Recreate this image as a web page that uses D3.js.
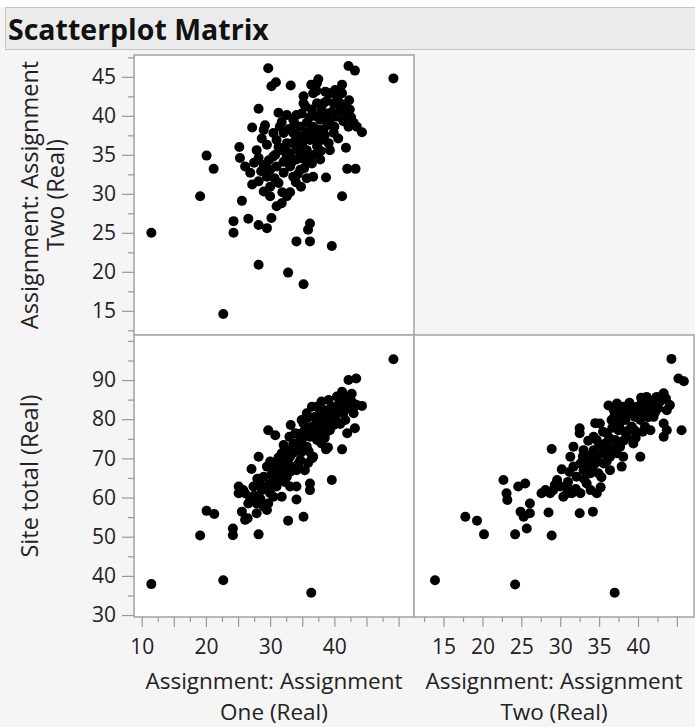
<!DOCTYPE html>
<html>
<head>
<meta charset="utf-8">
<script src="https://cdn.jsdelivr.net/npm/d3@7"></script>
<style>
  body { margin: 0; background: #fff; }
  text { font-family: "Open Sans", "Noto Sans", sans-serif; fill: #222; }
</style>
</head>
<body>
<div id="chart"></div>
<script>
const width = 695;
const height = 727;

// Assignment One (x) vs Assignment Two (y)
const oneVsTwo = [
  [29.7,46.1],[42.2,46.4],[43.2,45.8],[49.2,44.8],[30.9,44.3],[30.2,43.8],[33.2,43.9],[37.5,44.7],
  [37.3,44.2],[41.2,44.0],[35.2,42.5],[35.2,41.6],[28.2,40.9],[42.3,42.0],[31.3,40.4],[27.2,38.5],
  [29.2,38.8],[44.3,37.9],[20.1,34.9],[21.2,33.2],[25.2,36.0],[19.1,29.7],[25.6,29.1],[11.5,25.0],
  [24.3,26.5],[24.3,25.0],[26.6,26.8],[28.2,26.0],[29.5,25.6],[30.2,26.9],[28.2,20.9],[32.8,19.9],
  [35.2,18.4],[22.7,14.6],[34.1,23.9],[36.2,23.9],[36.2,26.2],[35.9,25.4],[39.6,23.3],[41.2,29.7],
  [42.0,33.2],[43.3,33.2],[41.8,35.9],[38.7,32.1],[34.8,30.9],[33.1,30.2],[31.8,28.8],[31.0,28.4],
  [30.0,29.7],[27.2,31.2],
  [25.3,34.6],[26.1,33.5],[26.9,32.7],[28.2,34.6],[29.0,33.7],[29.5,32.2],[30.0,30.9],[28.7,37.1],
  [29.5,36.3],[31.0,36.9],[32.1,37.8],[31.8,35.6],[32.6,34.8],[33.1,33.5],[33.6,32.2],[34.1,36.1],
  [34.1,34.4],[34.7,38.6],[35.2,37.4],[35.7,35.6],[36.5,33.9],[36.7,32.2],[37.3,39.9],[37.5,38.2],
  [38.0,36.9],[38.3,41.6],[38.8,40.3],[39.3,39.1],[39.3,35.6],[39.9,37.8],[40.4,42.5],[40.9,40.8],
  [41.4,39.3],[42.2,38.6],[43.0,39.1],[43.5,38.6],[40.6,37.1],[38.6,43.1],[39.3,42.9],[36.7,42.9],
  [37.3,41.6],[36.5,40.8],[34.1,40.1],[32.6,40.1],[33.6,39.5],[30.5,37.8],[31.5,38.6],[27.9,35.6],
  [30.5,34.8],[31.0,33.5],[30.0,33.1],[32.1,32.7],[34.7,33.1],[35.4,34.4],[32.6,36.5],[36.2,36.9],
  [37.3,36.1],[38.3,38.2],[39.1,36.5],[40.4,39.9],[41.4,41.2],[39.9,41.6],[35.7,39.1],[34.9,40.3],
  [29.0,38.2],[28.2,31.6],[29.0,30.3],[32.6,29.7],[31.3,31.4],[35.7,32.0],[37.8,34.4],[32.1,34.1],
  [33.6,37.8],[34.4,37.4],[33.1,35.2],[35.2,35.2],[36.7,38.6],[37.8,39.5],[42.4,40.8],[38.8,41.9],
  [40.1,43.3],[41.2,42.9],
  [31.8,39.2],[32.9,38.3],[33.9,36.8],[34.5,35.5],[35.0,36.4],[35.8,37.9],[36.4,38.1],[36.9,35.0],
  [37.6,37.3],[38.5,37.5],[38.9,38.8],[39.6,40.5],[40.0,38.6],[36.0,34.7],[35.3,33.3],[34.3,32.5],
  [33.3,34.0],[32.4,35.6],[31.3,36.0],[30.8,35.0],[29.8,34.3],[33.8,39.0],[35.5,41.2],[36.1,39.8],
  [37.0,37.0],[38.0,40.6],[39.0,39.5],[40.8,41.7],[41.8,40.3],[42.6,39.8],[37.2,43.2],[36.4,44.0],
  [34.0,31.5],[30.7,32.0],[31.9,30.2],[27.5,34.0],[28.6,32.9],[33.5,36.5],[34.8,34.6],[37.9,35.5]
];

// Assignment One (x) vs Site total (y)
const oneVsTotal = [
  [49.2,95.3],[42.2,90.0],[43.4,90.4],[11.5,37.9],[22.7,38.9],[36.4,35.7],[19.1,50.3],[20.1,56.6],
  [21.3,55.8],[24.2,52.1],[24.2,50.4],[28.2,50.6],[25.6,56.4],[26.5,54.7],[32.8,54.1],[35.2,55.1],
  [34.1,59.5],[36.2,63.6],[36.2,61.9],[39.6,64.5],[38.7,72.3],[41.2,72.3],[27.1,67.3],[28.2,70.4],
  [29.7,77.2],[30.8,75.9],[33.2,78.5],[43.2,77.7],[44.3,83.4],[42.0,76.4],[25.1,62.8],[25.1,61.1],
  [26.1,61.1],[26.9,59.8],[27.4,62.8],[28.4,63.6],[29.0,57.7],[29.7,58.5],[30.0,61.1],[27.9,56.0],
  [26.1,54.3],[29.0,65.3],[29.5,67.9],[30.0,69.2],[31.0,62.8],[31.3,66.2],[31.5,68.7],[31.8,71.3],
  [32.1,73.4],[32.6,65.3],[32.8,68.7],[33.1,70.4],[33.6,73.8],[33.9,76.4],[34.1,72.1],[34.7,69.6],
  [34.9,74.7],[35.2,78.9],[35.4,77.2],[35.7,73.0],[36.2,75.5],[36.5,70.0],[36.7,70.4],[37.0,80.6],
  [37.3,83.2],[37.5,77.2],[37.8,79.8],[38.0,73.8],[38.6,82.3],[38.8,78.9],[39.3,77.2],[39.6,83.2],
  [39.9,80.6],[40.4,85.8],[40.6,81.9],[41.2,87.0],[41.4,84.0],[41.7,79.8],[42.2,85.7],[42.4,82.8],
  [43.0,81.5],[43.5,83.6],[30.5,64.5],[28.7,61.9],[25.8,61.9],[26.6,58.5],[27.9,58.5],[30.5,60.2],
  [29.5,56.8],[32.3,64.0],[34.1,67.0],[35.4,67.0],[37.3,74.7],[35.7,81.5],[36.5,83.2],[39.1,84.9],
  [33.1,66.6],[34.4,68.7],[34.9,71.7],[32.3,67.0],[31.0,68.7],[32.6,72.1],[38.6,76.4],[37.0,77.2],
  [39.9,78.5],[33.1,62.8],[34.1,62.8],[31.8,60.2],[30.0,62.8],[40.4,83.2],[38.0,84.5],[41.4,81.5],
  [30.2,65.8],[30.8,67.2],[31.6,64.8],[32.0,69.8],[32.7,71.0],[33.4,67.8],[33.7,71.5],[34.3,74.0],
  [34.6,76.3],[35.0,73.0],[35.6,75.8],[36.0,71.8],[36.3,78.0],[36.8,76.2],[37.2,79.1],[37.7,75.5],
  [38.2,80.8],[38.4,78.0],[38.9,81.5],[39.4,79.8],[39.8,82.2],[40.2,80.0],[40.8,84.6],[41.0,82.7],
  [41.8,85.2],[42.8,84.3],[42.7,86.5],[35.9,68.8],[33.0,75.5],[31.3,70.2],[29.8,63.4],[28.5,59.6],
  [27.5,60.5],[28.0,64.8],[34.9,79.8],[36.0,80.5],[37.8,81.9],[38.5,75.2],[39.0,72.8],[40.9,78.8]
];

// Assignment Two (x) vs Site total (y)
const twoVsTotal = [
  [44.3,95.4],[45.2,90.4],[45.9,89.7],[13.9,38.9],[24.2,37.8],[37.0,35.7],[17.8,55.1],[19.3,54.1],
  [20.2,50.6],[24.2,50.6],[25.7,52.1],[28.9,50.3],[28.5,56.2],[22.7,64.5],[23.1,61.1],[23.2,59.4],
  [24.6,62.8],[25.5,63.6],[24.9,56.4],[25.3,55.1],[26.1,58.5],[26.1,56.0],[32.5,56.0],[34.2,56.4],
  [28.9,72.4],[32.5,77.7],[32.5,76.4],[35.2,62.6],[40.3,70.4],[45.6,77.2],[43.3,75.5],[43.7,77.2],
  [30.2,67.2],
  [27.6,61.1],[28.1,61.9],[29.1,61.9],[29.6,64.5],[30.4,60.2],[30.9,62.8],[31.5,61.1],[32.6,61.1],
  [33.9,61.9],[31.3,70.4],[31.7,67.9],[32.1,65.3],[33.0,67.0],[33.4,69.6],[33.9,66.2],[34.3,72.1],
  [34.5,68.7],[34.7,74.7],[35.1,78.9],[35.4,71.3],[35.8,73.8],[36.0,76.4],[36.4,70.4],[36.6,79.8],
  [36.9,82.3],[37.1,74.7],[37.3,84.0],[37.5,77.2],[37.7,73.0],[38.1,83.2],[38.4,79.8],[37.9,67.9],
  [38.6,75.5],[39.0,81.5],[39.2,78.1],[39.4,73.8],[39.9,83.2],[40.3,79.8],[40.5,84.5],[40.7,81.5],
  [41.1,85.7],[41.6,82.3],[42.0,84.0],[42.4,85.7],[42.6,82.8],[43.3,86.6],[43.7,82.3],[44.1,83.6],
  [43.3,78.9],[40.9,78.1],[41.6,77.2],[31.7,73.0],[33.0,72.1],[35.6,68.7],[36.2,73.0],[36.9,78.1],
  [34.9,66.2],[30.0,62.8],[28.7,61.1],[33.4,63.6],[38.1,70.4],[38.8,77.2],[36.4,67.0],[40.3,83.2],
  [38.6,82.3],[39.6,80.6],[40.7,84.0],[37.5,80.6],[34.3,75.5],[32.6,68.7],[30.9,61.1],[34.7,61.1],
  [37.3,71.3],[42.0,80.6],
  [32.0,62.2],[33.1,64.7],[33.6,68.3],[34.0,70.8],[34.7,70.0],[35.0,73.5],[35.5,76.8],[35.9,72.2],
  [36.3,75.2],[36.7,77.8],[37.0,81.0],[37.6,78.6],[37.8,82.8],[38.3,76.8],[38.5,80.9],[38.9,84.2],
  [39.3,82.4],[39.6,77.1],[40.0,81.2],[40.4,85.5],[41.0,83.0],[41.3,80.5],[41.8,84.8],[42.2,81.8],
  [42.9,84.6],[43.6,85.3],[36.0,69.3],[34.1,67.4],[32.9,70.5],[31.0,64.0],[29.3,63.2],[35.3,65.2],
  [37.0,72.4],[38.2,74.6],[39.7,75.2],[36.2,83.5],[34.5,79.0],[31.2,66.5],[40.6,76.8],[33.6,74.5]
];

// tick values
const oneMajor = [10, 15, 20, 25, 30, 35, 40, 45, 50];
const oneMinor = [12.5, 17.5, 22.5, 27.5, 32.5, 37.5, 42.5, 47.5];
const oneLabels = [10, 20, 30, 40];
const twoMajor = [15, 20, 25, 30, 35, 40, 45];
const twoMinor = [12.5, 17.5, 22.5, 27.5, 32.5, 37.5, 42.5, 47.5];
const twoXLabels = [15, 20, 25, 30, 35, 40];
const totalMajor = [30, 40, 50, 60, 70, 80, 90];
const totalMinor = [35, 45, 55, 65, 75, 85, 95, 100];

const title = "Scatterplot Matrix";
const nameOne = ["Assignment: Assignment", "One (Real)"];
const nameTwo = ["Assignment: Assignment", "Two (Real)"];
const nameTotal = ["Site total (Real)"];

// layout
const col1 = [134, 414], col2 = [414, 694];
const row1 = [55, 335], row2 = [335, 617];
const tickFont = "21px";
const titleFont = "23.5px";

var xOne = d3.scaleLinear().domain([8.8, 52.4]).range(col1);
var xTwo = d3.scaleLinear().domain([11.2, 47.2]).range(col2);
var yTwo = d3.scaleLinear().domain([11.9, 47.8]).range([row1[1], row1[0]]);
var yTotal = d3.scaleLinear().domain([29.5, 101.5]).range([row2[1], row2[0]]);

var svg = d3.select("#chart").append("svg")
  .attr("width", width)
  .attr("height", height);

// background
svg.append("rect").attr("x", 0).attr("y", 0).attr("width", width).attr("height", height).attr("fill", "#f5f5f5");
svg.append("rect").attr("x", 0).attr("y", 0).attr("width", width).attr("height", 7).attr("fill", "#fff");

// title bar
svg.append("rect")
  .attr("x", 5.5).attr("y", 7.5).attr("width", width).attr("height", 42)
  .attr("fill", "#ebebeb").attr("stroke", "#c4c4c4");
svg.append("text")
  .attr("x", 8).attr("y", 40)
  .style("font-size", "28.5px").style("font-weight", "bold")
  .style("fill", "#111")
  .text(title);

// panels
function panel(xr, yr) {
  svg.append("rect")
    .attr("x", xr[0]).attr("y", yr[0])
    .attr("width", xr[1] - xr[0]).attr("height", yr[1] - yr[0])
    .attr("fill", "#fff").attr("stroke", "#a8a8a8").attr("stroke-width", 1.6);
}
panel(col1, row1);
panel(col1, row2);
panel(col2, row2);

function dots(data, x, y) {
  svg.append("g").selectAll("circle")
    .data(data)
    .enter()
    .append("circle")
    .attr("cx", d => x(d[0]))
    .attr("cy", d => y(d[1]))
    .attr("r", 5)
    .attr("fill", "#000");
}
dots(oneVsTwo, xOne, yTwo);
dots(oneVsTotal, xOne, yTotal);
dots(twoVsTotal, xTwo, yTotal);

// axes: major with labels, minor without
function styleAxis(g) {
  g.select(".domain").remove();
  g.selectAll("line").attr("stroke", "#999").attr("stroke-width", 1.2);
  g.selectAll("text").style("font-size", tickFont).style("fill", "#222");
}

function leftAxis(scale, major, minor) {
  svg.append("g").attr("transform", "translate(" + col1[0] + ",0)")
    .call(d3.axisLeft(scale).tickValues(minor).tickSize(6).tickFormat(""))
    .call(styleAxis);
  svg.append("g").attr("transform", "translate(" + col1[0] + ",0)")
    .call(d3.axisLeft(scale).tickValues(major).tickSize(12).tickPadding(6).tickFormat(d3.format("d")))
    .call(styleAxis);
}
leftAxis(yTwo, twoMajor, twoMinor);
leftAxis(yTotal, totalMajor, totalMinor);

function bottomAxis(scale, major, minor, labels) {
  svg.append("g").attr("transform", "translate(0," + row2[1] + ")")
    .call(d3.axisBottom(scale).tickValues(minor).tickSize(5).tickFormat(""))
    .call(styleAxis);
  svg.append("g").attr("transform", "translate(0," + row2[1] + ")")
    .call(d3.axisBottom(scale).tickValues(major).tickSize(10).tickPadding(12)
      .tickFormat(d => labels.includes(d) ? d : ""))
    .call(styleAxis);
}
bottomAxis(xOne, oneMajor, oneMinor, oneLabels);
bottomAxis(xTwo, twoMajor, twoMinor, twoXLabels);

// axis titles (two lines under each column)
function xTitle(lines, xr) {
  lines.forEach(function (s, i) {
    svg.append("text")
      .attr("text-anchor", "middle")
      .attr("x", (xr[0] + xr[1]) / 2)
      .attr("y", 689 + i * 31)
      .style("font-size", "22.5px")
      .text(s);
  });
}
xTitle(nameOne, col1);
xTitle(nameTwo, col2);

function yTitle(lines, yr) {
  var cy = (yr[0] + yr[1]) / 2;
  lines.forEach(function (s, i) {
    svg.append("text")
      .attr("text-anchor", "middle")
      .attr("transform", "translate(" + (38 + i * 26) + "," + cy + ")rotate(-90)")
      .style("font-size", titleFont)
      .text(s);
  });
}
yTitle(nameTwo, row1);
yTitle(nameTotal, row2);
</script>
</body>
</html>
